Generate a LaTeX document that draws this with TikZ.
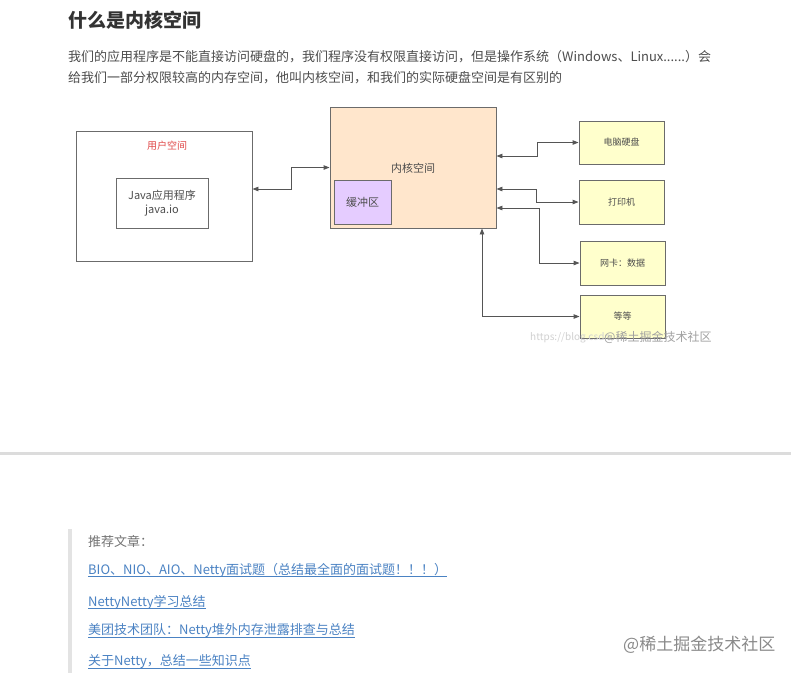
\documentclass[tikz,border=0pt]{standalone}
\usepackage{fontspec}
\setmainfont{Noto Sans CJK SC}
\usetikzlibrary{arrows.meta, positioning}

\definecolor{titlegray}{HTML}{333333}
\definecolor{textgray}{HTML}{4D4D4D}
\definecolor{boxline}{HTML}{6B6B6B}
\definecolor{arrowgray}{HTML}{555555}
\definecolor{kernelfill}{HTML}{FFE6CC}
\definecolor{bufferfill}{HTML}{E5CCFF}
\definecolor{devfill}{HTML}{FFFFCC}
\definecolor{userred}{HTML}{E04848}
\definecolor{linkblue}{HTML}{4A82C3}
\definecolor{rulegray}{HTML}{DCDCDC}
\definecolor{markgray}{HTML}{8A8A8A}

\begin{document}
\begin{tikzpicture}[x=1pt, y=-1pt,
    box/.style={draw=boxline, line width=0.9pt, inner sep=0pt, text=textgray},
    devbox/.style={box, fill=devfill, minimum width=85pt, minimum height=43pt,
      font=\fontsize{9}{11}\selectfont},
    bothway/.style={draw=arrowgray, line width=0.9pt,
      {Triangle[length=6pt,width=4.5pt]}-{Triangle[length=6pt,width=4.5pt]}},
    prose/.style={anchor=west, inner sep=0pt, text=textgray,
      font=\fontsize{13}{15}\selectfont},
    linktext/.style={anchor=west, inner sep=0pt, text=linkblue,
      font=\fontsize{13}{15}\selectfont}]

    % Page
    \useasboundingbox (0,0) rectangle (791,673);
    \fill[white] (0,0) rectangle (791,673);

    % Heading and text
    \node[anchor=west, inner sep=0pt, text=titlegray,
      font=\fontsize{19}{22}\selectfont\bfseries] (title) at (68,20) {什么是内核空间};
    \node[prose] (para1) at (68,57)
      {我们的应用程序是不能直接访问硬盘的，我们程序没有权限直接访问，但是操作系统（Windows、Linux......）会};
    \node[prose] (para2) at (68,78)
      {给我们一部分权限较高的内存空间，他叫内核空间，和我们的实际硬盘空间是有区别的};

    % User space
    \node[box, minimum width=176pt, minimum height=130pt] (user) at (164,196) {};
    \node[text=userred, font=\fontsize{10}{12}\selectfont] (userlabel) at (167,146) {用户空间};
    \node[box, minimum width=92pt, minimum height=50pt, align=center,
      font=\fontsize{11}{14}\selectfont] (java) at (162,203) {Java应用程序\\java.io};

    % Kernel space
    \node[box, fill=kernelfill, minimum width=166pt, minimum height=121pt] (kernel) at (413,167.5) {};
    \node[text=textgray, font=\fontsize{11}{13}\selectfont] (kernellabel) at (413,168) {内核空间};
    \node[box, fill=bufferfill, minimum width=57pt, minimum height=44pt,
      font=\fontsize{11}{13}\selectfont] (buffer) at (362.5,202) {缓冲区};

    % Devices
    \node[devbox] (disk) at (621.5,142.5) {电脑硬盘};
    \node[devbox, minimum height=44pt] (printer) at (621.5,202) {打印机};
    \node[devbox, minimum height=44pt] (nic) at (622.5,263) {网卡：数据};
    \node[devbox] (others) at (622.5,316.5) {等等};

    % Connectors
    \draw[bothway] ([yshift=7pt]user.east) -- ++(39,0) |- (kernel.west);
    \draw[bothway] ([yshift=11.5pt]kernel.east) -- ++(41,0) |- (disk.west);
    \draw[bothway] ([yshift=-21.5pt]kernel.east) -- ++(40,0) |- (printer.west);
    \draw[bothway] ([yshift=-40.5pt]kernel.east) -- ++(43,0) |- (nic.west);
    \draw[bothway] ([xshift=69pt]kernel.south) |- (others.west);

    % Image watermark
    \node[anchor=west, inner sep=0pt, text=black!18, font=\fontsize{10}{12}\selectfont]
      (imgurl) at (530,338) {https://blog.csdn};
    \node[anchor=west, inner sep=0pt, text=markgray!80, font=\fontsize{12}{14}\selectfont]
      (imgmark) at (604,337) {@稀土掘金技术社区};

    % Separator
    \fill[rulegray] (0,452) rectangle (791,455);

    % Recommended articles
    \fill[rulegray!80] (68,529) rectangle (72,673);
    \node[prose, text=black!55] (recommend) at (88,541) {推荐文章：};
    \node[linktext] (link1) at (88,570) {BIO、NIO、AIO、Netty面试题（总结最全面的面试题！！！）};
    \node[linktext] (link2) at (88,602) {NettyNetty学习总结};
    \node[linktext] (link3) at (88,631) {美团技术团队：Netty堆外内存泄露排查与总结};
    \node[linktext] (link4) at (88,662) {关于Netty，总结一些知识点};
    \foreach \l in {link1,link2,link3,link4}
      \draw[linkblue, line width=0.6pt] ([yshift=-2.5pt]\l.base west) -- ([yshift=-2.5pt]\l.base east);

    % Page watermark
    \node[anchor=west, inner sep=0pt, text=markgray, font=\fontsize{17}{20}\selectfont]
      (pagemark) at (623,645) {@稀土掘金技术社区};
\end{tikzpicture}
\end{document}
